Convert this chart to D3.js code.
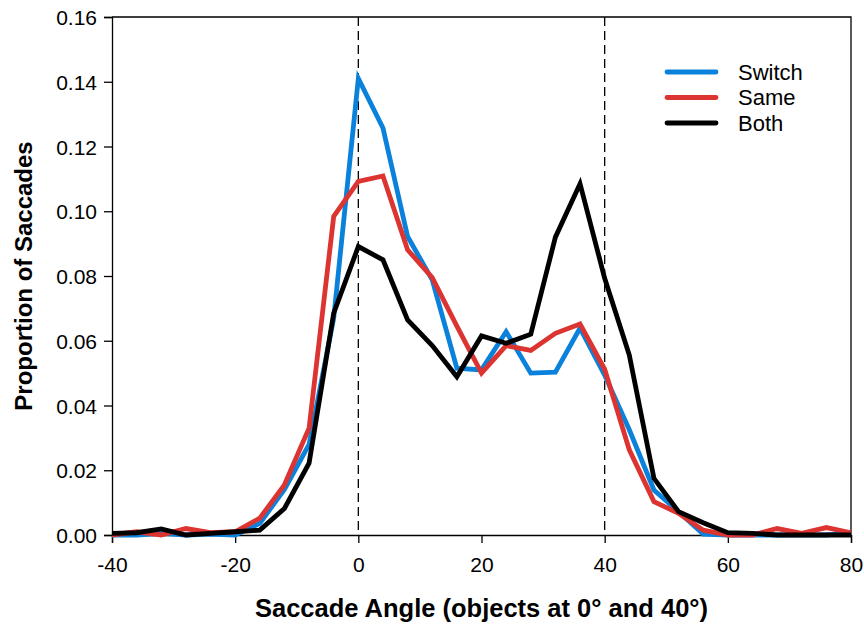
<!DOCTYPE html>
<html>
<head>
<meta charset="utf-8">
<script src="https://cdn.jsdelivr.net/npm/d3@7"></script>
<style>
  body { margin: 0; background: #fff; }
  text { font-family: "Liberation Sans", Arial, sans-serif; }
</style>
</head>
<body>
<svg id="chart" width="864" height="627"></svg>
<script>
// saccade angle bins
const angles = [-40, -36, -32, -28, -24, -20, -16, -12, -8, -4, 0, 4, 8, 12, 16, 20, 24, 28, 32, 36, 40, 44, 48, 52, 56, 60, 64, 68, 72, 76, 80];

const switchVals = [0.000, 0.000, 0.0005, 0.000, 0.0003, 0.000, 0.0036, 0.0141, 0.028, 0.067, 0.141, 0.1257, 0.0922, 0.0788, 0.0515, 0.051, 0.0628, 0.050, 0.0503, 0.0639, 0.0494, 0.0325, 0.0139, 0.0072, 0.0003, 0.000, 0.000, 0.000, 0.000, 0.000, 0.0007];
const sameVals = [0.000, 0.001, 0.000, 0.002, 0.0007, 0.001, 0.0052, 0.0155, 0.033, 0.0984, 0.1092, 0.1109, 0.0881, 0.0795, 0.0645, 0.050, 0.0585, 0.057, 0.0623, 0.0652, 0.0512, 0.0263, 0.0103, 0.0067, 0.0015, 0.000, 0.000, 0.002, 0.0005, 0.0023, 0.0007];
const bothVals = [0.0005, 0.0007, 0.0019, 0.000, 0.0005, 0.001, 0.0015, 0.0082, 0.0222, 0.0685, 0.0891, 0.085, 0.0664, 0.0585, 0.0489, 0.0615, 0.0592, 0.062, 0.092, 0.1085, 0.0793, 0.0556, 0.0175, 0.0072, 0.0038, 0.0007, 0.0005, 0.000, 0.000, 0.000, 0.000];

const seriesNames = ["Switch", "Same", "Both"];
const seriesColors = ["#0a82dc", "#dc3431", "#000000"];
const objectAngles = [0, 40];

const xTicks = [-40, -20, 0, 20, 40, 60, 80];
const yTicks = [0, 0.02, 0.04, 0.06, 0.08, 0.10, 0.12, 0.14, 0.16];

const margin = { top: 17, right: 13, bottom: 92, left: 112 };
const width = 864 - margin.left - margin.right;
const height = 627 - margin.top - margin.bottom;

const svg = d3.select("#chart");
const g = svg.append("g").attr("transform", `translate(${margin.left},${margin.top})`);

const x = d3.scaleLinear().domain([-40, 80]).range([0, width]);
const y = d3.scaleLinear().domain([0, 0.16]).range([height, 0]);

// frame (top and right)
g.append("path")
    .attr("d", `M0,0H${width}V${height}`)
    .attr("fill", "none")
    .attr("stroke", "#000")
    .attr("stroke-width", 1.3);

// axes (plain hyphen for negatives, like the original)
const xAxis = g.append("g")
    .attr("transform", `translate(0,${height})`)
    .call(d3.axisBottom(x).tickValues(xTicks).tickSize(8).tickFormat(d => String(d)));

const yAxis = g.append("g")
    .call(d3.axisLeft(y).tickValues(yTicks).tickSize(8).tickFormat(d => d.toFixed(2)));

[xAxis, yAxis].forEach(a => {
    a.select(".domain").attr("stroke-width", 1.3);
    a.selectAll(".tick line").attr("stroke-width", 1.3);
    a.selectAll("text").attr("font-size", 21).attr("fill", "#000")
        .attr("font-family", "'Liberation Sans', Arial, sans-serif");
});
xAxis.selectAll(".tick text").attr("y", 37).attr("dy", 0);
yAxis.selectAll(".tick text").attr("x", -15).attr("dy", "0.36em");

// dashed lines at object positions
g.selectAll(".objline")
    .data(objectAngles)
    .enter().append("line")
    .attr("class", "objline")
    .attr("x1", d => x(d)).attr("x2", d => x(d))
    .attr("y1", 0).attr("y2", height)
    .attr("stroke", "#000")
    .attr("stroke-width", 1.3)
    .attr("stroke-dasharray", "9,5");

// series lines
const series = [switchVals, sameVals, bothVals].map((vals, i) => ({
    name: seriesNames[i],
    color: seriesColors[i],
    points: angles.map((a, j) => ({ a: a, v: vals[j] }))
}));

const line = d3.line().x(d => x(d.a)).y(d => y(d.v));

g.selectAll(".series")
    .data(series)
    .enter().append("path")
    .attr("class", "series")
    .attr("d", d => line(d.points))
    .attr("fill", "none")
    .attr("stroke", d => d.color)
    .attr("stroke-width", 4.8)
    .attr("stroke-linejoin", "miter");

// legend
const legend = svg.append("g").attr("transform", "translate(667,72)");
const item = legend.selectAll("g")
    .data(series)
    .enter().append("g")
    .attr("transform", (d, i) => `translate(0,${i * 25.5})`);

item.append("line")
    .attr("x1", 0).attr("x2", 49)
    .attr("stroke", d => d.color)
    .attr("stroke-width", 4.8)
    .attr("stroke-linecap", "round");

item.append("text")
    .attr("x", 71)
    .attr("dy", "0.36em")
    .attr("font-size", 22)
    .text(d => d.name);

// axis titles
svg.append("text")
    .attr("x", margin.left + width / 2)
    .attr("y", 617)
    .attr("text-anchor", "middle")
    .attr("font-size", 25.5)
    .attr("font-weight", "bold")
    .text("Saccade Angle (objects at 0° and 40°)");

svg.append("text")
    .attr("transform", `translate(32,${margin.top + height / 2}) rotate(-90)`)
    .attr("text-anchor", "middle")
    .attr("font-size", 24)
    .attr("font-weight", "bold")
    .text("Proportion of Saccades");
</script>
</body>
</html>
